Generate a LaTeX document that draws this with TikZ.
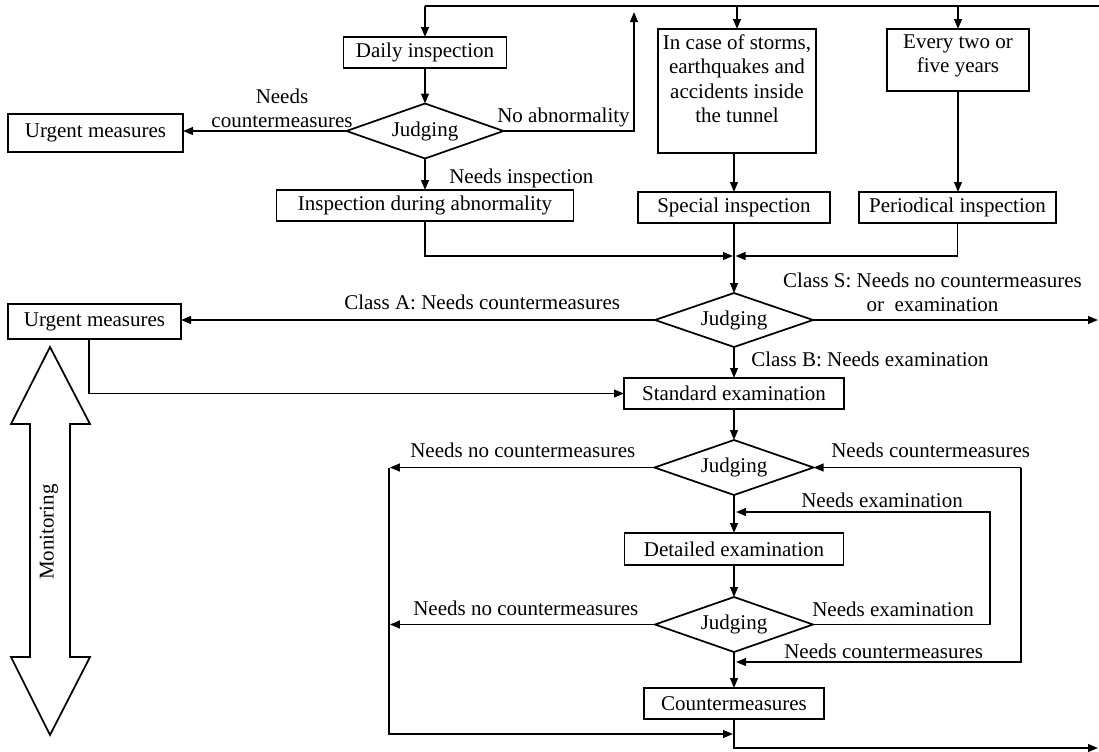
\documentclass[tikz,border=0pt]{standalone}
\usepackage{fontspec}
\setmainfont{Liberation Serif}
\usetikzlibrary{arrows.meta,shapes.geometric}
\tikzset{
  box/.style={draw,line width=1.3pt,inner sep=0pt,outer sep=0pt,align=center},
  sz/.style 2 args={minimum width=#1*0.75pt,minimum height=#2*0.75pt},
  judge/.style={draw,diamond,line width=1.3pt,inner sep=0pt,outer sep=0pt,shape aspect=2.9},
  conn/.style={line width=1.4pt},
  arr/.style={conn,-{Triangle[length=7.5pt,width=5.8pt]}},
  lbl/.style={inner sep=0pt,anchor=base west},
  clbl/.style={inner sep=0pt,anchor=south,align=center},
}
\begin{document}
\begin{tikzpicture}[x=0.75pt,y=-0.75pt,
  font=\fontsize{15.75pt}{18.4pt}\selectfont]
\fill[white] (0,0) rectangle (1099,751);
\useasboundingbox (0,0) rectangle (1099,751);

% nodes
\node[box,sz={163}{31}] (daily) at (425,52.5) {Daily inspection};
\node[judge,sz={157}{55}] (d1) at (425,131) {Judging};
\node[box,sz={297}{31}] (insp) at (425,205.5) {Inspection during abnormality};
\node[box,sz={175}{38}] (urg1) at (95.5,133) {Urgent measures};
\node[box,sz={173}{35}] (urg2) at (94.5,321.5) {Urgent measures};
\node[box,sz={158}{124}] (storms) at (737,91) {};
\node[clbl,anchor=north] (stormsT) at ([yshift=-3.75pt]storms.north) {In case of storms,\\earthquakes and\\accidents inside\\the tunnel};
\node[box,sz={142}{62}] (every) at (958,60) {};
\node[clbl,anchor=north] (everyT) at ([yshift=-3.75pt]every.north) {Every two or\\five years};
\node[box,sz={192}{31}] (special) at (734,207.5) {Special inspection};
\node[box,sz={197}{31}] (peri) at (957.5,207.5) {Periodical inspection};
\node[judge,sz={158}{54}] (d2) at (734,320) {Judging};
\node[box,sz={220}{31}] (std) at (734,393.5) {Standard examination};
\node[judge,sz={159}{55}] (d3) at (734,467.5) {Judging};
\node[box,sz={219}{32}] (det) at (734,549) {Detailed examination};
\node[judge,sz={158}{55}] (d4) at (734,624.5) {Judging};
\node[box,sz={180}{31}] (cm) at (734,703.5) {Countermeasures};

% monitoring double arrow
\draw[line width=1.3pt] (50,347) -- (90,424) -- (70,424) -- (70,657) -- (90,657)
  -- (50,735) -- (11,657) -- (30,657) -- (30,424) -- (11,424) -- cycle;
\node[rotate=90,inner sep=0pt] (mon) at (49,532) {Monitoring};

% coordinates
\coordinate (tL) at (425,6);
\coordinate (tR) at (1099,6);
\coordinate (naTop) at (634,12);
\coordinate (jA) at (733,256);
\coordinate (jB) at (735.5,256);
\coordinate (sOut) at (1098,320);
\coordinate (nL1) at (389,467.5);
\coordinate (jC) at (733,734);
\coordinate (eR) at (990,512);
\coordinate (eT) at (736,512);
\coordinate (cR) at (1021,467.5);
\coordinate (cT) at (736,662);
\coordinate (oR) at (1098,748);

% connectors
\draw[conn] (tL) -- (tR);
\draw[arr] (tL) -- (daily.north);
\draw[arr] (storms.north |- tL) -- (storms.north);
\draw[arr] (every.north |- tL) -- (every.north);
\draw[arr] (daily) -- (d1);
\draw[arr] (d1.west) -- (d1.west -| urg1.east);
\draw[arr] (d1.east) -| (naTop);
\draw[arr] (d1) -- (insp);
\draw[arr] (insp.south) |- (jA);
\draw[arr] (peri.south) |- (jB);
\draw[arr] (special.north |- storms.south) -- (special.north);
\draw[arr] (every) -- (every.south |- peri.north);
\draw[arr] (special) -- (d2);
\draw[arr] (d2.west) -- (d2.west -| urg2.east);
\draw[arr] (d2.east) -- (sOut);
\draw[arr] (d2) -- (std);
\draw[arr] ([xshift=-4.1pt]urg2.south) |- (std.west);
\draw[arr] (std) -- (d3);
\draw[arr] (d3.west) -- ([xshift=0.6pt]d3.west -| nL1);
\draw[arr] (nL1) |- (jC);
\draw[arr] (d4.west) -- ([xshift=0.6pt]d4.west -| nL1);
\draw[arr] (d3) -- (det);
\draw[arr] (d4.east) -| (eR) -- (eT);
\draw[arr] (det) -- (d4);
\draw[arr] (cR) -- (d3.east);
\draw[arr] (cR) |- (cT);
\draw[arr] (d4) -- (cm);
\draw[arr] (cm.south) |- (oR);

% labels
\node[clbl] (lNC) at (282,128) {Needs\\countermeasures};
\node[lbl] (lNA) at (497,122) {No abnormality};
\node[lbl] (lNI) at (449,183) {Needs inspection};
\node[lbl] (lCA) at (344,309.5) {Class A: Needs countermeasures};
\node[clbl] (lCS) at (932.5,312) {Class S: Needs no countermeasures\\or\ \ examination};
\node[lbl] (lCB) at (751,366) {Class B: Needs examination};
\node[lbl] (lNN1) at (410,457) {Needs no countermeasures};
\node[lbl] (lNC1) at (831,457) {Needs countermeasures};
\node[lbl] (lNE1) at (801,507.5) {Needs examination};
\node[lbl] (lNN2) at (413,615.5) {Needs no countermeasures};
\node[lbl] (lNE2) at (812,616.5) {Needs examination};
\node[lbl] (lNC2) at (784,658.5) {Needs countermeasures};
\end{tikzpicture}
\end{document}
